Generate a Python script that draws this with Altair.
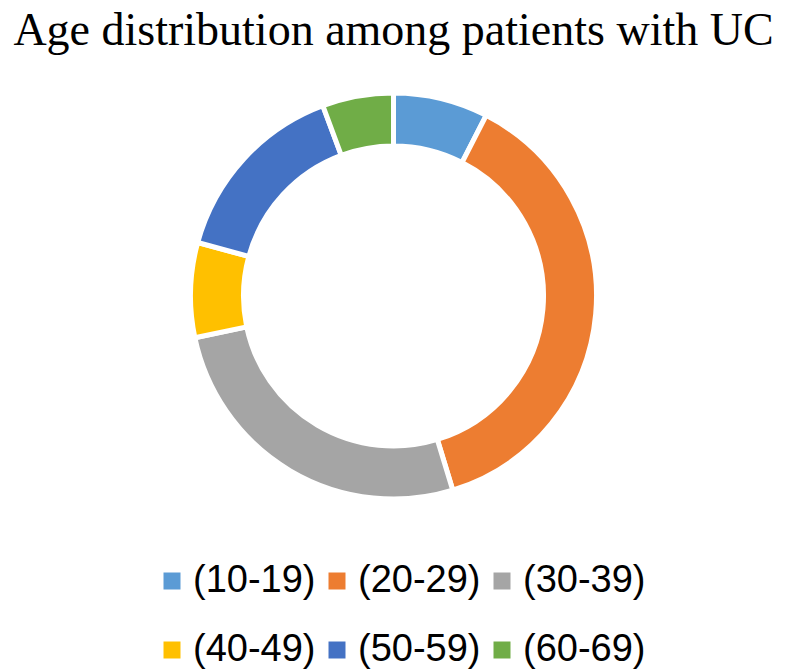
import altair as alt
import pandas as pd

categories = ["(10-19)", "(20-29)", "(30-39)", "(40-49)", "(50-59)", "(60-69)"]
counts = [4, 20, 14, 4, 8, 3]
colors = ["#5B9BD5", "#ED7D31", "#A5A5A5", "#FFC000", "#4472C4", "#70AD47"]

df = pd.DataFrame({"group": categories, "count": counts, "idx": list(range(len(categories)))})

chart = alt.Chart(df).mark_arc(
    radius=203, radius2=150, stroke="white", strokeWidth=5
).encode(
    theta=alt.Theta("count:Q", stack=True),
    order=alt.Order("idx:Q"),
    color=alt.Color(
        "group:N",
        scale=alt.Scale(domain=categories, range=colors),
        sort=categories,
        legend=alt.Legend(
            title=None,
            orient="none",
            legendX=145,
            legendY=501,
            direction="horizontal",
            columns=3,
            symbolType="square",
            symbolSize=289,
            symbolStrokeWidth=0,
            labelFont="Liberation Sans",
            labelFontSize=38,
            labelColor="#000000",
            labelOffset=2,
            columnPadding=2,
            rowPadding=31,
            labelLimit=400,
        ),
    ),
).properties(
    width=771,
    height=470,
    title=alt.Title(
        "Age distribution among patients with UC",
        font="Liberation Serif",
        fontSize=46,
        fontWeight="normal",
        color="#000000",
        anchor="middle",
        offset=6,
    ),
).configure_view(stroke=None).properties(padding=0)

chart.save("out.html", embed_options={"renderer": "svg", "actions": False})
